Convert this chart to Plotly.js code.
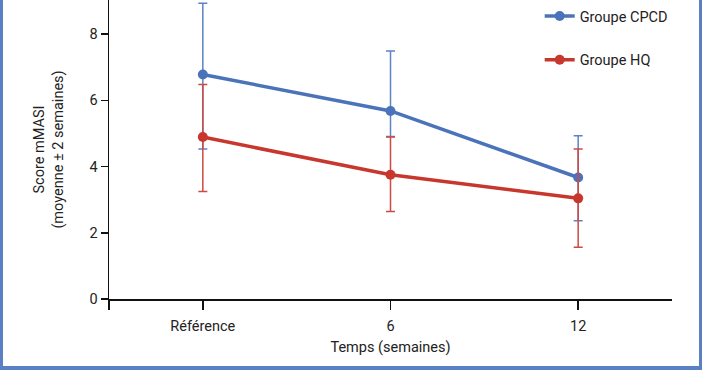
<!DOCTYPE html>
<html>
<head>
<meta charset="utf-8">
<script src="https://cdn.plot.ly/plotly-3.0.1.min.js"></script>
<style>
  html, body { margin: 0; padding: 0; background: #ffffff; }
  #wrap { position: relative; width: 702px; height: 370px; overflow: hidden; }
  #chart { position: absolute; left: 0; top: 0; width: 702px; height: 370px; }
  .bd { position: absolute; background: #5a7fc2; }
</style>
</head>
<body>
<div id="wrap">
  <div id="chart"></div>
  <div class="bd" style="left:0;top:0;width:3px;height:370px;"></div>
  <div class="bd" style="right:0;top:0;width:3px;height:370px;"></div>
  <div class="bd" style="left:0;bottom:0;width:702px;height:4px;"></div>
</div>
<script>
  // Data
  const categories = ['Référence', '6', '12'];
  const cpcdMean = [6.78, 5.68, 3.67];
  const cpcdUpper = [8.93, 7.49, 4.93];
  const cpcdLower = [4.53, 4.91, 2.36];
  const hqMean = [4.89, 3.75, 3.04];
  const hqUpper = [6.48, 4.89, 4.53];
  const hqLower = [3.25, 2.64, 1.56];
  const seriesNames = ['Groupe CPCD', 'Groupe HQ'];

  const blue = '#4a73ba';
  const blueErr = '#5b83c6';
  const red = '#c8372e';
  const redErr = '#cd4a42';

  const xPos = categories.map((c, i) => i);
  const plus = (m, u) => m.map((v, i) => u[i] - v);
  const minus = (m, l) => m.map((v, i) => v - l[i]);

  const traces = [
    {
      x: xPos, y: cpcdMean, name: seriesNames[0], type: 'scatter', mode: 'lines+markers',
      legendgroup: 'a',
      line: { color: blue, width: 3.5 },
      marker: { color: blue, size: 10 },
      error_y: { type: 'data', symmetric: false, array: plus(cpcdMean, cpcdUpper), arrayminus: minus(cpcdMean, cpcdLower),
                 color: blueErr, thickness: 1.5, width: 4.5 }
    },
    {
      x: xPos, y: hqMean, name: seriesNames[1], type: 'scatter', mode: 'lines+markers',
      legendgroup: 'b',
      line: { color: red, width: 3.5 },
      marker: { color: red, size: 10 },
      error_y: { type: 'data', symmetric: false, array: plus(hqMean, hqUpper), arrayminus: minus(hqMean, hqLower),
                 color: redErr, thickness: 1.5, width: 4.5 }
    }
  ];

  const fontFam = 'Roboto, "DejaVu Sans", sans-serif';
  const fs = 14.5;

  const layout = {
    width: 702, height: 370,
    margin: { l: 109, r: 30, t: 0, b: 71 },
    paper_bgcolor: '#ffffff', plot_bgcolor: '#ffffff',
    font: { family: fontFam, size: fs, color: '#222222' },
    showlegend: true,
    legend: {
      x: 0.765, y: 1.0, xanchor: 'left', yanchor: 'top',
      traceorder: 'grouped', tracegroupgap: 22,
      font: { family: fontFam, size: fs, color: '#222222' },
      bgcolor: 'rgba(0,0,0,0)'
    },
    xaxis: {
      range: [-0.5, 2.5],
      tickmode: 'array',
      tickvals: [-0.5].concat(xPos),
      ticktext: [''].concat(categories),
      ticks: 'outside', ticklen: 9, tickwidth: 1.5, tickcolor: '#111111',
      ticklabelstandoff: 4,
      showline: true, linecolor: '#111111', linewidth: 1.5,
      showgrid: false, zeroline: false,
      title: { text: 'Temps (semaines)', standoff: 8, font: { family: fontFam, size: fs, color: '#222222' } }
    },
    yaxis: {
      range: [0, 9.03],
      tickmode: 'array', tickvals: [0, 2, 4, 6, 8],
      ticks: 'outside', ticklen: 7, tickwidth: 1.5, tickcolor: '#111111',
      showline: true, linecolor: '#111111', linewidth: 1.5,
      showgrid: false, zeroline: false,
      title: { text: 'Score mMASI<br>(moyenne ± 2 semaines)', standoff: 22, font: { family: fontFam, size: fs, color: '#222222' } }
    }
  };

  Plotly.newPlot('chart', traces, layout, { displayModeBar: false, staticPlot: true });
</script>
</body>
</html>
